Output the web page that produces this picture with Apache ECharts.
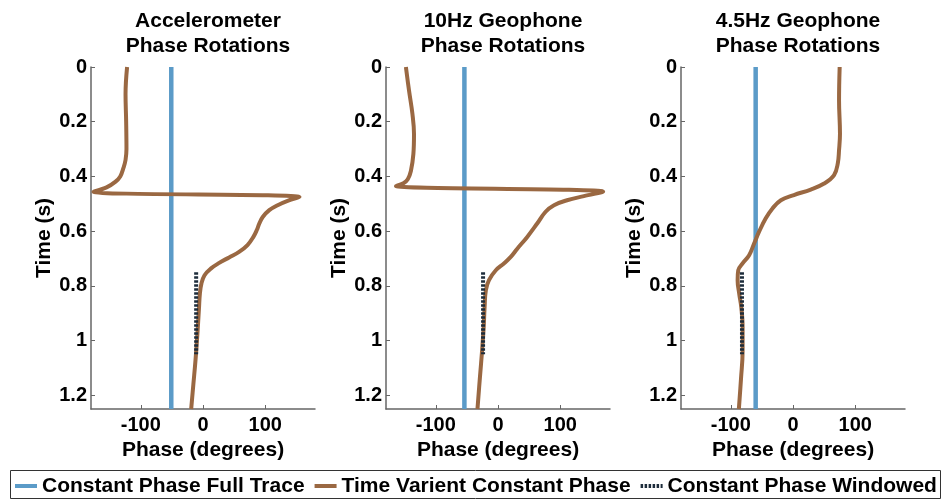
<!DOCTYPE html>
<html>
<head>
<meta charset="utf-8">
<script src="https://cdn.jsdelivr.net/npm/echarts@6/dist/echarts.min.js"></script>
<style>
  html, body { margin: 0; padding: 0; background: #fff; }
  #chart { width: 942px; height: 500px; }
</style>
</head>
<body>
<div id="chart"></div>
<script>
// Panel titles
const panelTitles = ['Accelerometer\nPhase Rotations', '10Hz Geophone\nPhase Rotations', '4.5Hz Geophone\nPhase Rotations'];

// Time-variant constant phase (time in s, phase in degrees)
const accTime    = [0, 0.1, 0.2, 0.3, 0.34, 0.37, 0.4, 0.42, 0.44, 0.456, 0.475, 0.489, 0.505, 0.523, 0.548, 0.572, 0.596, 0.621, 0.651, 0.676, 0.696, 0.716, 0.737, 0.761, 0.791, 0.828, 0.883, 0.975, 1.07, 1.16, 1.25];
const accPhase   = [-122, -124.5, -123.5, -123, -124.5, -128, -133, -141, -155, -176, 155, 136, 120, 106.5, 96, 90.5, 86.5, 81, 71.5, 58, 42, 26, 12.5, 2.5, -2.5, -5, -6.5, -9, -12, -15.5, -19];

const geo10Time  = [0, 0.086, 0.172, 0.245, 0.318, 0.38, 0.41, 0.425, 0.435, 0.456, 0.472, 0.487, 0.505, 0.529, 0.572, 0.621, 0.664, 0.694, 0.718, 0.743, 0.779, 0.816, 0.877, 0.95, 1.035, 1.133, 1.25];
const geo10Phase = [-148, -143, -137.5, -135, -136, -140, -145, -152, -164, 169, 138, 111, 90, 76.5, 63, 47, 31, 20.5, 9.5, -3.5, -14.5, -19.5, -21.5, -23, -25.5, -29, -33];

const geo45Time  = [0, 0.122, 0.244, 0.304, 0.352, 0.395, 0.426, 0.448, 0.468, 0.487, 0.517, 0.554, 0.602, 0.645, 0.688, 0.718, 0.743, 0.779, 0.828, 0.88, 0.95, 1.04, 1.137, 1.25];
const geo45Phase = [75, 74, 75.5, 74, 72, 66, 50, 28.5, 1.5, -19.5, -33, -44, -54.5, -62.5, -70.5, -81, -88, -89, -86.5, -83, -81, -81, -83.5, -87];

// Constant phase over the full trace, one per sensor
const fullTracePhase = [-51, -54, -60];
const fullTraceTime  = [0, 1.25];

// Constant phase from the windowed analysis
const windowTime     = [0.75, 1.05];
const windowedPhase  = [-11, -24, -82];

// Axis ticks
const xTicks = [-100, 0, 100];
const yTicks = [0, 0.2, 0.4, 0.6, 0.8, 1, 1.2];

const seriesNames = ['Constant Phase Full Trace', 'Time Varient Constant Phase', 'Constant Phase Windowed'];
const colors = { full: '#5b9bc8', variant: '#9a6842', windowed: '#1d2c3b' };

const FONT = '"Liberation Sans", Arial, Helvetica, sans-serif';
const gridLefts = [91, 386, 681];
const gridWidth = 224;

const variantData = [
  accTime.map((t, i) => [accPhase[i], t]),
  geo10Time.map((t, i) => [geo10Phase[i], t]),
  geo45Time.map((t, i) => [geo45Phase[i], t])
];

const grids = [], xAxes = [], yAxes = [], titles = [], series = [];
gridLefts.forEach((left, k) => {
  grids.push({ left: left, top: 67, width: gridWidth, height: 342 });
  titles.push({
    text: panelTitles[k], left: left + gridWidth / 2, top: 4, textAlign: 'center',
    textStyle: { fontFamily: FONT, fontWeight: 'bold', fontSize: 21, lineHeight: 25, color: '#000' }
  });
  xAxes.push({
    gridIndex: k, type: 'value', min: -180, max: 180,
    name: 'Phase (degrees)', nameLocation: 'middle', nameGap: 25,
    nameTextStyle: { fontFamily: FONT, fontWeight: 'bold', fontSize: 21, color: '#000' },
    axisLine: { onZero: false, lineStyle: { color: '#666', width: 1.5 } },
    axisTick: { inside: true, length: 4, customValues: xTicks, lineStyle: { color: '#666' } },
    axisLabel: { customValues: xTicks, margin: 6, fontFamily: FONT, fontWeight: 'bold', fontSize: 20, color: '#000' },
    splitLine: { show: false }
  });
  yAxes.push({
    gridIndex: k, type: 'value', min: 0, max: 1.25, inverse: true,
    name: 'Time (s)', nameLocation: 'middle', nameGap: 36, nameRotate: 90,
    nameTextStyle: { fontFamily: FONT, fontWeight: 'bold', fontSize: 21, color: '#000' },
    axisLine: { show: true, onZero: false, lineStyle: { color: '#666', width: 1.5 } },
    axisTick: { show: true, inside: true, length: 4, customValues: yTicks, lineStyle: { color: '#666' } },
    axisLabel: {
      customValues: yTicks, margin: 4, fontFamily: FONT, fontWeight: 'bold', fontSize: 20, color: '#000',
      formatter: v => String(+(+v).toFixed(2))
    },
    splitLine: { show: false }
  });

  series.push({
    name: seriesNames[0], type: 'line', xAxisIndex: k, yAxisIndex: k,
    data: fullTraceTime.map(t => [fullTracePhase[k], t]),
    symbol: 'none', color: colors.full,
    lineStyle: { color: colors.full, width: 4.5 }, z: 2
  });
  series.push({
    name: seriesNames[1], type: 'line', xAxisIndex: k, yAxisIndex: k,
    data: variantData[k], smooth: 0.4,
    symbol: 'none', color: colors.variant,
    lineStyle: { color: colors.variant, width: 4, join: 'round' }, z: 3
  });
  series.push({
    name: seriesNames[2], type: 'line', xAxisIndex: k, yAxisIndex: k,
    data: windowTime.map(t => [windowedPhase[k], t]),
    symbol: 'none', color: colors.windowed,
    lineStyle: { color: colors.windowed, width: 4, type: [2.5, 1.5], cap: 'butt' }, z: 4
  });
});

const chart = echarts.init(document.getElementById('chart'), null, { renderer: 'canvas' });
chart.setOption({
  animation: false,
  backgroundColor: '#fff',
  title: titles,
  grid: grids,
  xAxis: xAxes,
  yAxis: yAxes,
  series: series,
  legend: {
    data: seriesNames, left: 13, top: 475, padding: 0, itemGap: 8,
    itemWidth: 22, itemHeight: 14,
    lineStyle: { width: 4 },
    itemStyle: { color: 'rgba(0,0,0,0)', borderColor: 'rgba(0,0,0,0)', borderWidth: 0, opacity: 0 },
    textStyle: { fontFamily: FONT, fontWeight: 'bold', fontSize: 21, lineHeight: 22, color: '#000' },
    selectedMode: false
  },
  graphic: [{
    type: 'rect', silent: true,
    shape: { x: 10.5, y: 470.5, width: 930, height: 28 },
    style: { fill: 'none', stroke: '#333', lineWidth: 1 }
  }]
});
</script>
</body>
</html>
